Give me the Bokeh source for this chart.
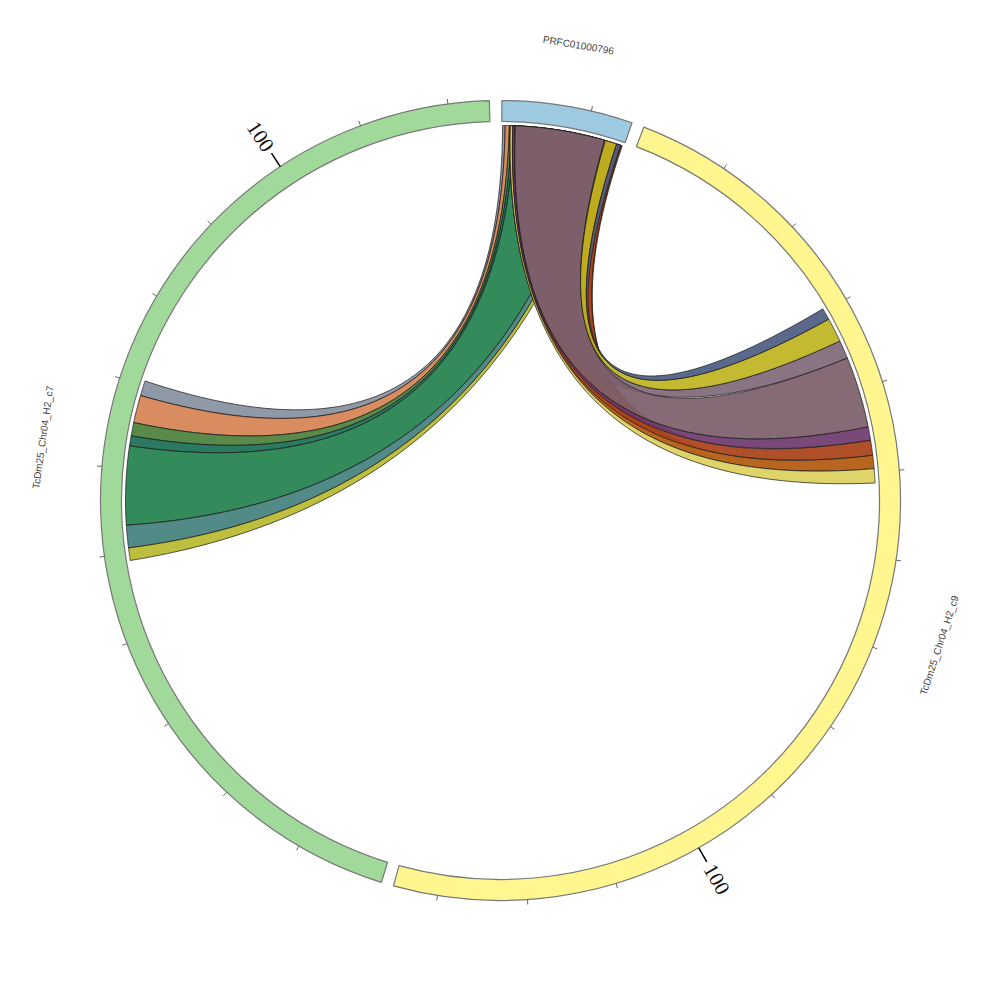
import math
import numpy as np
from bokeh.plotting import figure
from bokeh.models import Range1d
from bokeh.embed import file_html
from bokeh.resources import INLINE
from bokeh.core.properties import value

# ---------------- data ----------------
contig_names = ["PRFC01000796", "TcDm25_Chr04_H2_c9", "TcDm25_Chr04_H2_c7"]
contig_lengths = [14.7, 135.0, 124.6]          # kb
contig_colors = ["#9ecae1", "#fff68f", "#a1d99b"]

# links: source interval on PRFC01000796 -> target interval on c9 / c7 (kb)
link_src_start = [0.1, 0.4, 0.9, 1.2, 1.5, 10.8, 11.6,
                  1.0, 1.0, 1.0, 1.3, 1.6, 1.6, 12.4, 13.8]
link_src_end = [0.4, 0.9, 1.2, 1.5, 10.8, 11.6, 12.2,
                14.5, 14.4, 1.3, 1.6, 12.4, 12.3, 13.8, 14.3]
link_target = ["TcDm25_Chr04_H2_c7"] * 7 + ["TcDm25_Chr04_H2_c9"] * 8
link_tgt_start = [68.8, 65.5, 63.9, 62.7, 53.3, 50.6, 49.1,
                  48.0, 46.2, 49.6, 44.6, 33.9, 36.1, 31.0, 29.6]
link_tgt_end = [70.6, 68.8, 65.5, 63.9, 62.7, 53.3, 50.6,
                49.6, 48.0, 51.3, 46.2, 36.1, 44.6, 33.9, 31.0]
link_palette = ["#8790a0", "#d68251", "#4c803a", "#186e52", "#22804c", "#43807e", "#b8ba2f",
                "#b2580c", "#a94118", "#dbd05d", "#6e3a6e", "#7e6878", "#7c5e6a", "#bfb420", "#4d5d82"]

tick_step = 10
major_tick = 100

# ---------------- layout ----------------
START_DEG = 0.2
GAP_DEG = 1.8
R_OUT, R_IN, R_LINK = 400, 379, 375
deg_per_unit = (360 - GAP_DEG * len(contig_lengths)) / sum(contig_lengths)

starts = []
a = START_DEG
for L in contig_lengths:
    starts.append(a)
    a += L * deg_per_unit + GAP_DEG
idx = {n: i for i, n in enumerate(contig_names)}


def ang(ci, u):
    return starts[ci] + u * deg_per_unit


def xy(theta, r):
    t = math.radians(theta)
    return r * math.sin(t), r * math.cos(t)


def norm_text(a):
    a = ((a + 180) % 360) - 180
    if a > 90:
        a -= 180
    elif a <= -90:
        a += 180
    return math.radians(a)


p = figure(width=984, height=984, x_range=Range1d(-500, 484), y_range=Range1d(-484, 500),
           output_backend="svg", toolbar_location=None, min_border=0,
           x_axis_location=None, y_axis_location=None)
p.grid.visible = False
p.outline_line_color = None
p.background_fill_color = "white"

# ring segments
starts_rad, ends_rad = [], []
for i, L in enumerate(contig_lengths):
    s = starts[i]
    e = s + L * deg_per_unit
    starts_rad.append(math.radians(90 - e))
    ends_rad.append(math.radians(90 - s))
p.annular_wedge(x=0, y=0, inner_radius=R_IN, outer_radius=R_OUT,
                start_angle=starts_rad, end_angle=ends_rad,
                fill_color=contig_colors, line_color="#777777", line_width=1.2)

# ribbons
tvals = np.linspace(0, 1, 60)


def arc(ci, u0, u1, n=30):
    th = np.linspace(ang(ci, u0), ang(ci, u1), n)
    return [xy(t, R_LINK) for t in th]


def bez(p0, p2):
    return [((1 - t) ** 2 * p0[0] + t * t * p2[0], (1 - t) ** 2 * p0[1] + t * t * p2[1]) for t in tvals]


xs, ys = [], []
src = idx["PRFC01000796"]
for s0, s1, tg, t0, t1 in zip(link_src_start, link_src_end, link_target, link_tgt_start, link_tgt_end):
    ti = idx[tg]
    pts = arc(src, s0, s1)
    pts += bez(xy(ang(src, s1), R_LINK), xy(ang(ti, t0), R_LINK))
    pts += arc(ti, t0, t1)
    pts += bez(xy(ang(ti, t1), R_LINK), xy(ang(src, s0), R_LINK))
    xs.append([q[0] for q in pts])
    ys.append([q[1] for q in pts])

p.patches(xs, ys, fill_color=link_palette, fill_alpha=0.92,
          line_color="#1a1a1a", line_width=0.8, line_alpha=0.9)

# ticks
mx0, my0, mx1, my1 = [], [], [], []
Mx0, My0, Mx1, My1 = [], [], [], []
lx, ly, lt, la = [], [], [], []
for i, L in enumerate(contig_lengths):
    v = tick_step
    while v < L:
        th = ang(i, v)
        if v % major_tick == 0:
            x0, y0 = xy(th, R_OUT)
            x1, y1 = xy(th, R_OUT + 16)
            Mx0.append(x0); My0.append(y0); Mx1.append(x1); My1.append(y1)
            tx, tyy = xy(th, R_OUT + 36)
            lx.append(tx); ly.append(tyy); lt.append(str(v)); la.append(norm_text(90 - th))
        else:
            x0, y0 = xy(th, R_OUT)
            x1, y1 = xy(th, R_OUT + 5)
            mx0.append(x0); my0.append(y0); mx1.append(x1); my1.append(y1)
        v += tick_step

p.segment(mx0, my0, mx1, my1, line_color="#666666", line_width=1)
p.segment(Mx0, My0, Mx1, My1, line_color="#000000", line_width=1.5)
p.text(lx, ly, text=lt, angle=la, text_font=value("Liberation Serif"),
       text_font_size="21px", text_align="center", text_baseline="middle", text_color="#111111")

# contig names
nx, ny, na = [], [], []
for i, L in enumerate(contig_lengths):
    mid = starts[i] + L * deg_per_unit / 2
    x, y = xy(mid, 462)
    nx.append(x); ny.append(y); na.append(norm_text(-mid))
p.text(nx, ny, text=contig_names, angle=na, text_font=value("Liberation Sans"),
       text_font_size="10px", text_align="center", text_baseline="middle", text_color="#444444")

open("out.html", "w").write(file_html(p, INLINE))
